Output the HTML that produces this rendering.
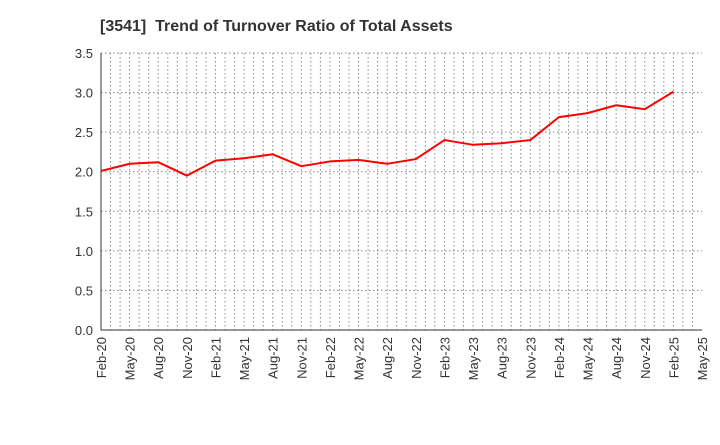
<!DOCTYPE html>
<html><head><meta charset="utf-8">
<style>
body{margin:0;background:#fff;font-family:"Liberation Sans",Arial,sans-serif;}
svg text{font-family:"Liberation Sans",Arial,sans-serif;}
</style></head>
<body>
<svg id="chart" width="720" height="440" xmlns="http://www.w3.org/2000/svg">
<text x="100" y="31" font-size="16" font-weight="bold" fill="#333" xml:space="preserve" style="white-space:pre">[3541]  Trend of Turnover Ratio of Total Assets</text>
<g id="grid"></g><g id="axes"></g><g id="series"></g>
</svg>
<script>
const xLabels=["Feb-20","May-20","Aug-20","Nov-20","Feb-21","May-21","Aug-21","Nov-21","Feb-22","May-22","Aug-22","Nov-22","Feb-23","May-23","Aug-23","Nov-23","Feb-24","May-24","Aug-24","Nov-24","Feb-25","May-25"];
const values=[2.01,2.10,2.12,1.95,2.14,2.17,2.22,2.07,2.13,2.15,2.10,2.16,2.40,2.34,2.36,2.40,2.69,2.74,2.84,2.79,3.01];
const yTicks=[0.0,0.5,1.0,1.5,2.0,2.5,3.0,3.5];
const L=101,R=702,T=53,B=330,NS="http://www.w3.org/2000/svg";
const xs=i=>L+(R-L)*i/(xLabels.length-1);
const ys=v=>B-(B-T)*v/3.5;
function mk(tag,at,parent){const e=document.createElementNS(NS,tag);for(const k in at)e.setAttribute(k,at[k]);document.getElementById(parent).appendChild(e);return e;}
const months=(xLabels.length-1)*3;
for(let m=1;m<months;m++){const x=L+(R-L)*m/months;
 const g=mk('line',{x1:x,x2:x,y1:T,y2:B,stroke:'#888','stroke-width':1,'stroke-dasharray':'1.5,2.5'},'grid');
 
 }
yTicks.forEach(v=>{const y=ys(v);
 if(v>0){const g=mk('line',{x1:L,x2:R,y1:y,y2:y,stroke:'#888','stroke-width':1,'stroke-dasharray':'1.5,2.5'},'grid');
 
 }
 const t=mk('text',{x:L-8,y:y+5,'text-anchor':'end','font-size':13,fill:'#333'},'axes');t.textContent=v.toFixed(1);
 
 });
const ax=mk('path',{d:`M${L},${T}V${B}H${R}`,stroke:'#333',fill:'none','stroke-width':1},'axes');


xLabels.forEach((s,i)=>{const x=xs(i);
 const t=mk('text',{x:0,y:0,'text-anchor':'end','font-size':13,fill:'#333',transform:`translate(${x+5},${B+7}) rotate(-90)`},'axes');t.textContent=s;
 
 });
const p=mk('polyline',{points:values.map((v,i)=>xs(i)+','+ys(v)).join(' '),fill:'none',stroke:'#f00','stroke-width':2,'stroke-linejoin':'round'},'series');


</script>
</body></html>
